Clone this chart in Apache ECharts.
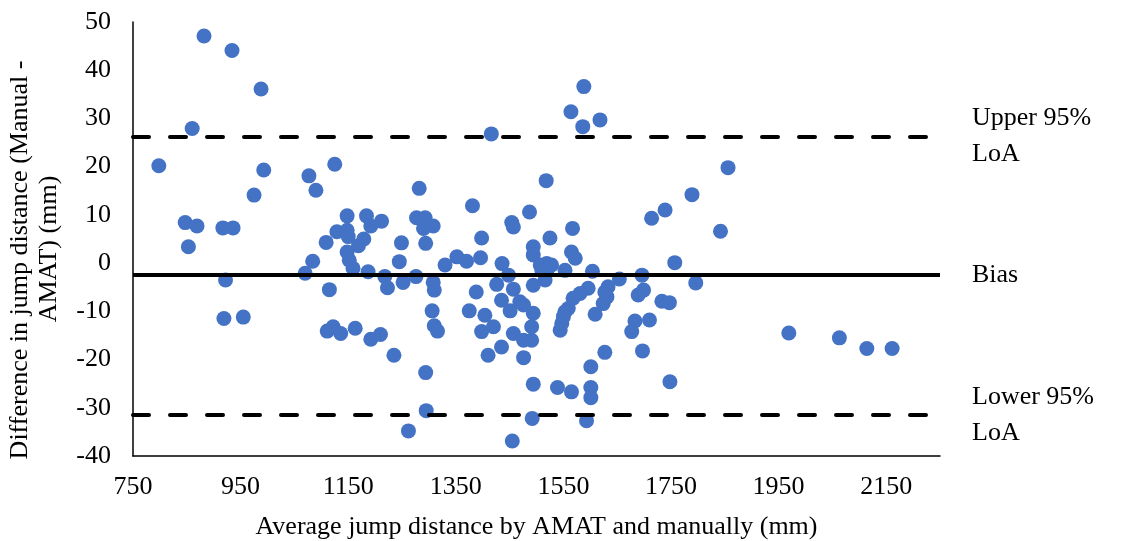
<!DOCTYPE html>
<html>
	<head>
		<meta charset="utf-8">
		<title></title>
		<style>
			html, body { margin: 0; padding: 0; background: #fff; }
			#tubiao { width: 1122px; height: 541px; }
		</style>
	</head>
	<body>
		<div id="tubiao"></div>
		<script src="https://cdn.jsdelivr.net/npm/echarts@6.0.0/dist/echarts.min.js"></script>
		<script>
			// average of AMAT and manual jump distance (mm)
			var avgDistance = [798, 860, 882, 934, 988, 993, 975, 847, 869, 853,
				917, 936, 922, 919, 955, 1077, 1090, 1125, 1148, 1184,
				1212, 1192, 1129, 1148, 1150, 1109, 1179, 1169, 1148, 1152,
				1159, 1084, 1070, 1187, 1245, 1218, 1223, 1252, 1276, 1249,
				1277, 1293, 1290, 1308, 1294, 1282, 1308, 1310, 1330, 1352,
				1370, 1396, 1381, 1398, 1115, 1306, 1375, 1310, 1316, 1111,
				1122, 1136, 1163, 1192, 1210, 1235, 1404, 1398, 1410, 1388,
				1294, 1295, 1262, 1416, 1487, 1454, 1457, 1567, 1525, 1494,
				1494, 1565, 1572, 1436, 1448, 1507, 1519, 1528, 1510, 1519,
				1553, 1516, 1494, 1604, 1739, 1714, 1757, 1796, 1654, 1696,
				1426, 1457, 1435, 1469, 1476, 1451, 1494, 1596, 1581, 1568,
				1633, 1627, 1631, 1624, 1699, 1689, 1559, 1553, 1550, 1547,
				1544, 1609, 1733, 1747, 1683, 1677, 1710, 1420, 1457, 1476,
				1491, 1491, 1435, 1476, 1627, 1697, 1601, 1494, 1539, 1565,
				1601, 1601, 1748, 1492, 1593, 1455, 1588, 1564, 1586, 1618,
				1518, 1789, 1856, 1842, 1969, 2063, 2114, 2161];

			// difference manual - AMAT (mm)
			var difference = [20.2, 27.9, 47.1, 44.1, 36.1, 19.3, 14.1, 8.4, 7.7, 3.4,
				7.3, 7.3, -3.5, -11.5, -11.2, 18.1, 15.1, 20.5, 9.8, 9.8,
				8.7, 7.7, 6.5, 6.8, 5.5, 4.3, 5.0, 3.6, 2.3, 0.6,
				-1.1, 0.4, -2.1, -1.8, 0.3, -2.8, -5.1, -4.0, -2.8, 4.2,
				9.4, 9.4, 7.2, 7.7, 4.1, 15.5, -4.0, -5.6, -0.4, 1.3,
				0.4, 1.1, 11.9, 5.2, -5.5, -9.9, -9.9, -13.0, -14.1, -14.1,
				-13.2, -14.6, -13.5, -15.8, -14.8, -19.1, -10.8, -14.2, -19.1, -6.0,
				-22.7, -30.6, -34.8, 26.8, 10.6, 8.4, 7.5, 7.2, 5.2, 3.4,
				1.7, 2.3, 1.0, -0.1, -2.5, -0.4, -0.1, -0.4, -1.5, -1.8,
				-1.5, -3.5, -4.6, -1.7, 11.0, 9.3, 0.1, -4.1, -3.3, -2.5,
				-4.4, -5.4, -7.7, -8.0, -8.7, -9.9, -10.4, -5.2, -6.3, -7.3,
				-4.9, -6.0, -7.0, -8.4, -5.6, -6.6, -9.4, -10.1, -11.1, -12.5,
				-13.9, -10.6, -7.9, -8.2, -12.0, -14.2, -11.8, -13.2, -14.6, -16.0,
				-16.0, -13.2, -17.4, -19.6, -18.5, -18.2, -21.5, -25.1, -25.8, -26.7,
				-25.8, -27.9, -24.6, -32.2, -32.7, -36.9, 36.6, 31.4, 28.3, 29.7,
				17.1, 14.2, 19.8, 6.6, -14.5, -15.5, -17.7, -17.7];

			// bias and limits of agreement
			var bias = -2.5;
			var upperLoA = 26.3;
			var lowerLoA = -31.5;

			// axis ranges [min, max, interval]
			var xRange = [750, 2250, 200];
			var yRange = [-40, 50, 10];

			var font = "'Liberation Serif', 'Times New Roman', serif";
			var fs = 26;

			var points = [];
			for (var i = 0; i < avgDistance.length; i++) {
				points.push([avgDistance[i], difference[i]]);
			}

			var lineLabel = {
				show: true,
				position: 'end',
				distance: 32,
				color: '#000',
				fontFamily: font,
				fontSize: fs,
				lineHeight: 36
			};

			var myChart = echarts.init(document.getElementById('tubiao'));
			myChart.setOption({
				animation: false,
				backgroundColor: '#fff',
				grid: {
					left: 133,
					right: 182,
					top: 22,
					bottom: 85,
					containLabel: false,
					outerBoundsMode: 'none'
				},
				// y axis title, two lines like the original
				graphic: [
					{
						type: 'text',
						x: 20,
						y: 260,
						rotation: Math.PI / 2,
						style: {
							text: 'Difference in jump distance (Manual -',
							fill: '#000',
							font: fs + 'px ' + font,
							textAlign: 'center',
							textVerticalAlign: 'middle'
						}
					},
					{
						type: 'text',
						x: 49,
						y: 249,
						rotation: Math.PI / 2,
						style: {
							text: 'AMAT) (mm)',
							fill: '#000',
							font: fs + 'px ' + font,
							textAlign: 'center',
							textVerticalAlign: 'middle'
						}
					}
				],
				xAxis: {
					type: 'value',
					min: xRange[0],
					max: xRange[1],
					interval: xRange[2],
					name: 'Average jump distance by AMAT and manually (mm)',
					nameLocation: 'middle',
					nameGap: 58,
					nameTextStyle: { color: '#000', fontFamily: font, fontSize: fs },
					axisLine: { onZero: false, lineStyle: { color: '#000', width: 1.5 } },
					axisTick: { show: false },
					splitLine: { show: false },
					axisLabel: {
						color: '#000', fontFamily: font, fontSize: fs, margin: 18, showMaxLabel: false,
						formatter: function (v) { return String(v); }
					}
				},
				yAxis: {
					type: 'value',
					min: yRange[0],
					max: yRange[1],
					interval: yRange[2],
					axisLine: { onZero: false, lineStyle: { color: '#000', width: 1.5 } },
					axisTick: { show: false },
					splitLine: { show: false },
					axisLabel: { color: '#000', fontFamily: font, fontSize: fs, margin: 22 }
				},
				series: [
					{
						// reference lines only
						type: 'scatter',
						data: [],
						z: 1,
						markLine: {
							silent: true,
							symbol: ['none', 'none'],
							animation: false,
							data: [
								{ yAxis: upperLoA, lineStyle: { type: [16, 21], cap: 'round' }, label: { formatter: 'Upper 95%\nLoA' } },
								{ yAxis: bias, lineStyle: { type: 'solid' }, label: { formatter: 'Bias' } },
								{ yAxis: lowerLoA, lineStyle: { type: [16, 21], cap: 'round' }, label: { formatter: 'Lower 95%\nLoA' } }
							],
							lineStyle: { color: '#000', width: 4 },
							label: lineLabel
						}
					},
					{
						type: 'scatter',
						data: points,
						z: 2,
						symbolSize: 15,
						itemStyle: { color: '#4472C4', opacity: 1 }
					}
				]
			});
		</script>
	</body>
</html>
